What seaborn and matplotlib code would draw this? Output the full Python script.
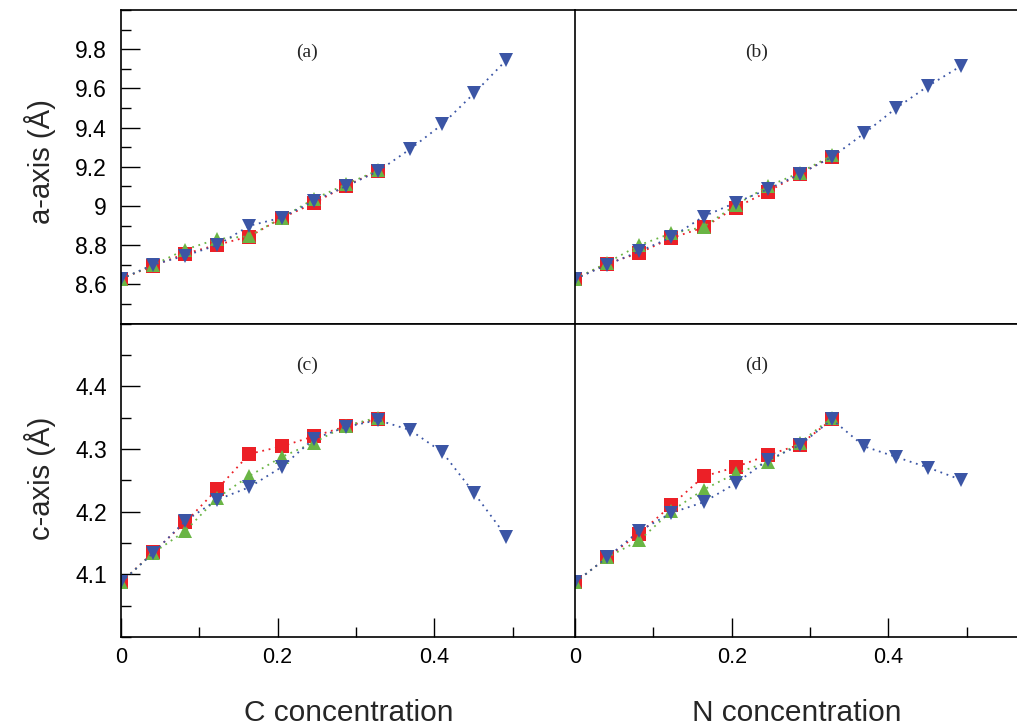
import matplotlib
matplotlib.use("Agg")
import matplotlib.pyplot as plt
from matplotlib.ticker import FixedLocator, MultipleLocator
import seaborn as sns

# concentration values (same grid for C and N)
conc = [0, 0.041, 0.082, 0.123, 0.164, 0.205, 0.246, 0.287, 0.328,
        0.369, 0.410, 0.451, 0.492]

# (a) a-axis vs C concentration
a_red = [8.627, 8.695, 8.756, 8.802, 8.844, 8.938, 9.014, 9.102, 9.180]
a_green = [8.627, 8.698, 8.777, 8.831, 8.846, 8.940, 9.035, 9.110, 9.182]
a_blue = [8.627, 8.700, 8.746, 8.800, 8.899, 8.940, 9.025, 9.100, 9.177,
          9.290, 9.416, 9.576, 9.745]

# (b) a-axis vs N concentration
b_red = [8.627, 8.705, 8.760, 8.836, 8.890, 8.992, 9.073, 9.163, 9.252]
b_green = [8.627, 8.710, 8.800, 8.860, 8.892, 9.005, 9.100, 9.170, 9.258]
b_blue = [8.627, 8.700, 8.768, 8.840, 8.946, 9.017, 9.085, 9.163, 9.250,
          9.370, 9.500, 9.613, 9.713]

# (c) c-axis vs C concentration
c_red = [4.087, 4.135, 4.183, 4.236, 4.292, 4.304, 4.320, 4.336, 4.348]
c_green = [4.087, 4.134, 4.169, 4.222, 4.257, 4.287, 4.310, 4.337, 4.350]
c_blue = [4.087, 4.134, 4.185, 4.219, 4.239, 4.271, 4.316, 4.335, 4.346,
          4.330, 4.295, 4.229, 4.160]

# (d) c-axis vs N concentration
d_red = [4.087, 4.127, 4.165, 4.210, 4.256, 4.271, 4.290, 4.307, 4.347]
d_green = [4.087, 4.127, 4.154, 4.201, 4.235, 4.261, 4.279, 4.310, 4.350]
d_blue = [4.087, 4.127, 4.169, 4.198, 4.215, 4.245, 4.282, 4.306, 4.347,
          4.304, 4.287, 4.270, 4.251]

panel_labels = ["(a)", "(b)", "(c)", "(d)"]
x_ticks = [0, 0.2, 0.4]
x_ticklabels = ["0", "0.2", "0.4"]
a_ticks = [8.6, 8.8, 9.0, 9.2, 9.4, 9.6, 9.8]
a_ticklabels = ["8.6", "8.8", "9", "9.2", "9.4", "9.6", "9.8"]
c_ticks = [4.1, 4.2, 4.3, 4.4]
c_ticklabels = ["4.1", "4.2", "4.3", "4.4"]

sns.set_style("white")
plt.rcParams['font.family'] = ['Liberation Sans', 'DejaVu Sans']

red, green, blue = "#ec2027", "#6ab545", "#3b55a5"

fig = plt.figure(figsize=(10.17, 7.27), dpi=100)
gs = fig.add_gridspec(2, 2, left=121 / 1017, right=1.0,
                      top=1 - 10 / 727, bottom=1 - 637 / 727,
                      wspace=0, hspace=0, width_ratios=[454, 442])

panels = [
    (0, 0, a_red, a_green, a_blue),
    (0, 1, b_red, b_green, b_blue),
    (1, 0, c_red, c_green, c_blue),
    (1, 1, d_red, d_green, d_blue),
]

for i, (r, c, yr, yg, yb) in enumerate(panels):
    ax = fig.add_subplot(gs[r, c])
    ls = (0, (1, 2.6))
    for ys, col, mk, ms in [(yr, red, "s", 9.4), (yg, green, "^", 10.5),
                            (yb, blue, "v", 10.5)]:
        sns.lineplot(x=conc[:len(ys)], y=ys, ax=ax, color=col, marker=mk,
                     markersize=ms, markeredgewidth=0, linestyle=ls,
                     linewidth=1.3, legend=False)

    ax.set_xlim(0, 0.5795 if c == 0 else 0.564)
    if r == 0:
        ax.set_ylim(8.4, 10.0)
        ax.yaxis.set_major_locator(FixedLocator(a_ticks))
        ax.yaxis.set_minor_locator(MultipleLocator(0.1))
        ax.set_yticklabels(a_ticklabels if c == 0 else [])
    else:
        ax.set_ylim(4.0, 4.5)
        ax.yaxis.set_major_locator(FixedLocator(c_ticks))
        ax.yaxis.set_minor_locator(MultipleLocator(0.05))
        ax.set_yticklabels(c_ticklabels if c == 0 else [])

    ax.xaxis.set_major_locator(FixedLocator(x_ticks))
    ax.xaxis.set_minor_locator(MultipleLocator(0.1))
    ax.set_xticklabels(x_ticklabels if r == 1 else [])

    ax.tick_params(axis="both", which="both", direction="in", colors="black",
                   width=1.0)
    ax.tick_params(axis="both", which="major", length=14)
    ax.tick_params(axis="both", which="minor", length=7)
    ax.tick_params(axis="y", which="both", left=(c == 0), right=False,
                   labelleft=(c == 0), labelsize=16.5, pad=10)
    ax.tick_params(axis="x", which="both", bottom=(r == 1), top=False,
                   labelbottom=(r == 1), labelsize=15.5, pad=7)

    for side in ["left", "bottom", "top"]:
        ax.spines[side].set_visible(True)
        ax.spines[side].set_color("black")
        ax.spines[side].set_linewidth(1.2)
    ax.spines["right"].set_visible(False)
    ax.set_xlabel("")
    ax.set_ylabel("")

    ax.text(0.41, 0.866, panel_labels[i], transform=ax.transAxes,
            ha="center", va="center", fontsize=14,
            family=["Liberation Serif", "DejaVu Serif"])

fig.text(40 / 1017, 1 - 162 / 727, "a-axis (Å)", rotation=90,
         ha="center", va="center", fontsize=21)
fig.text(40 / 1017, 1 - 478 / 727, "c-axis (Å)", rotation=90,
         ha="center", va="center", fontsize=21)
fig.text(349 / 1017, 1 - 713 / 727, "C concentration",
         ha="center", va="center", fontsize=21.5)
fig.text(797 / 1017, 1 - 713 / 727, "N concentration",
         ha="center", va="center", fontsize=21.5)

fig.savefig("out.png", dpi=100)
